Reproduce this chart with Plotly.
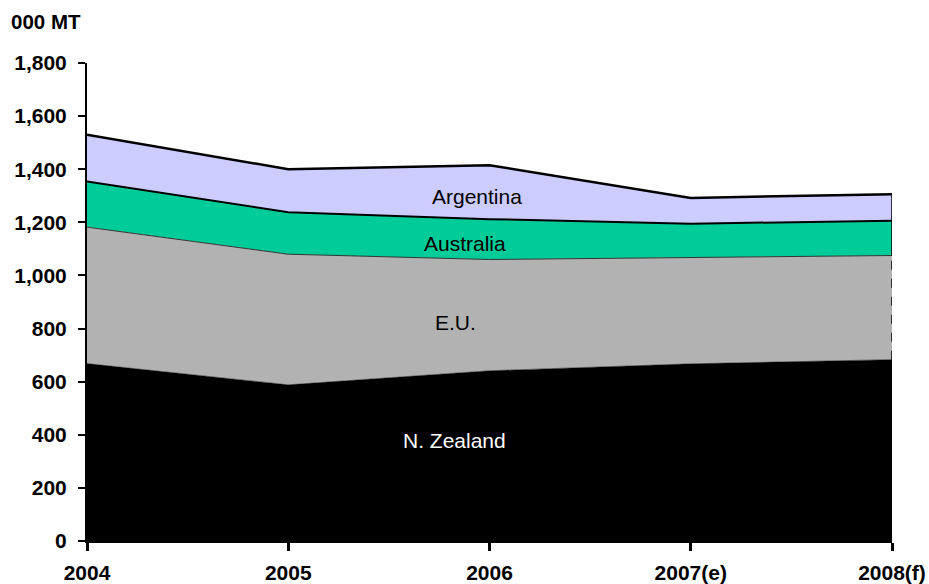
import plotly.graph_objects as go

years = ["2004", "2005", "2006", "2007(e)", "2008(f)"]
n_zealand = [668, 588, 641, 667, 683]
eu = [514, 492, 419, 400, 392]
australia = [172, 158, 152, 128, 131]
argentina = [176, 162, 203, 97, 100]

xs = list(range(len(years)))
FONT = "Liberation Sans, Arial, sans-serif"

fig = go.Figure()
series = [
    ("N. Zealand", n_zealand, "#000000", dict(width=0.5, color="#000000")),
    ("E.U.", eu, "#B2B2B2", dict(width=1, color="#333333")),
    ("Australia", australia, "#00CC99", dict(width=2, color="#000000")),
    ("Argentina", argentina, "#CCCCFF", dict(width=2.5, color="#000000")),
]
for name, vals, color, line in series:
    fig.add_trace(go.Scatter(
        x=xs, y=vals, name=name, mode="lines", stackgroup="one",
        fillcolor=color, line=line, hoverinfo="x+y+name",
    ))

# right-hand edge of the last year's stack
last = len(years) - 1
nz_top = n_zealand[last]
eu_top = nz_top + eu[last]
total = eu_top + australia[last] + argentina[last]
fig.add_trace(go.Scatter(x=[last, last], y=[nz_top, eu_top], mode="lines",
                         line=dict(color="#000000", width=1.5, dash="dash"),
                         hoverinfo="skip", cliponaxis=False))
fig.add_trace(go.Scatter(x=[last, last], y=[eu_top, total], mode="lines",
                         line=dict(color="#000000", width=1.5),
                         hoverinfo="skip", cliponaxis=False))

labels = [
    ("Argentina", 1.94, 1299, "#000000"),
    ("Australia", 1.88, 1122, "#000000"),
    ("E.U.", 1.83, 821, "#000000"),
    ("N. Zealand", 1.825, 380, "#FFFFFF"),
]
for text, x, y, c in labels:
    fig.add_annotation(x=x, y=y, text=text, showarrow=False,
                       font=dict(family=FONT, size=21, color=c))

fig.add_annotation(xref="paper", yref="paper", x=-0.097, y=1.059,
                   xanchor="left", yanchor="bottom", text="<b>000 MT</b>",
                   showarrow=False,
                   font=dict(family=FONT, size=20.5, color="#000000"))

tick_font = dict(family=FONT, size=21, color="#000000")
fig.update_layout(
    width=929, height=584,
    margin=dict(l=87, r=37, t=63, b=43),
    paper_bgcolor="white", plot_bgcolor="white",
    showlegend=False,
    xaxis=dict(
        range=[0, 4], tickmode="array", tickvals=xs,
        ticktext=[f"<b>{y}</b>" for y in years],
        showgrid=False, zeroline=False, showline=True, linecolor="#000000",
        linewidth=2, ticks="outside", ticklen=8, tickwidth=3, tickcolor="#000000",
        tickfont=tick_font, ticklabelstandoff=4, automargin=False,
    ),
    yaxis=dict(
        range=[0, 1800], tickmode="array", tickvals=list(range(0, 1801, 200)),
        ticktext=[f"<b>{v:,}</b>" for v in range(0, 1801, 200)],
        showgrid=False, zeroline=False, showline=True, linecolor="#000000",
        linewidth=2, ticks="outside", ticklen=7, tickwidth=2, tickcolor="#000000",
        tickfont=tick_font, ticklabelstandoff=7, automargin=False,
    ),
)

fig.write_html("out.html")
